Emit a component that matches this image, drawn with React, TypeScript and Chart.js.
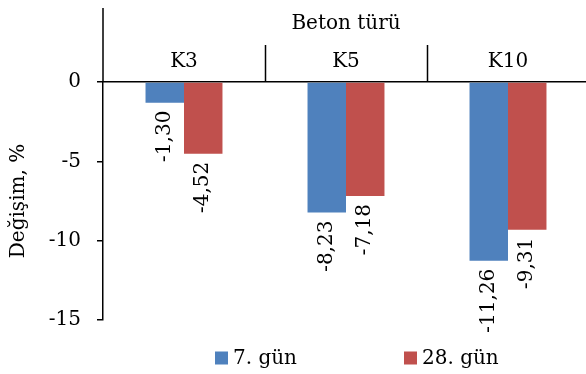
import { useEffect, useRef } from "react";
import { Chart, registerables } from "chart.js";

Chart.register(...registerables);

// Concrete types and percentage change per curing age
const categories = ["K3", "K5", "K10"];
const seriesNames = ["7. gün", "28. gün"];
const day7Values = [-1.3, -8.23, -11.26];
const day28Values = [-4.52, -7.18, -9.31];
const yTickValues = [0, -5, -10, -15];

const FONT_FAMILY = "'DejaVu Serif', 'Liberation Serif', serif";
const FONT_SIZE = 20;
const BLUE = "#4F81BD";
const RED = "#C0504D";
const BLACK = "#000000";

const formatValue = (v: number) => v.toFixed(2).replace(".", ",");

// Rotated value labels under each bar end
const valueLabels = {
  id: "valueLabels",
  afterDatasetsDraw(chart: any) {
    const ctx = chart.ctx as CanvasRenderingContext2D;
    ctx.save();
    ctx.font = `${FONT_SIZE}px ${FONT_FAMILY}`;
    ctx.fillStyle = BLACK;
    ctx.textAlign = "right";
    ctx.textBaseline = "middle";
    chart.data.datasets.forEach((ds: any, di: number) => {
      const meta = chart.getDatasetMeta(di);
      meta.data.forEach((bar: any, i: number) => {
        const text = formatValue(ds.data[i] as number);
        ctx.save();
        ctx.translate(bar.x, bar.y + 8);
        ctx.rotate(-Math.PI / 2);
        ctx.fillText(text, 0, 0);
        ctx.restore();
      });
    });
    ctx.restore();
  },
};

// Divider lines of the category label rows above the plot
const categoryDividers = {
  id: "categoryDividers",
  afterDraw(chart: any) {
    const { ctx, chartArea, scales } = chart;
    const x = scales.x;
    const step = x.getPixelForValue(1) - x.getPixelForValue(0);
    ctx.save();
    ctx.strokeStyle = BLACK;
    ctx.lineWidth = 1.5;
    ctx.beginPath();
    ctx.moveTo(chartArea.left, chartArea.top);
    ctx.lineTo(chartArea.left, 8);
    for (let i = 0; i < categories.length; i++) {
      const px = Math.round(x.getPixelForValue(i) + step / 2) + 0.5;
      ctx.moveTo(px, chartArea.top);
      ctx.lineTo(px, chartArea.top - 37);
    }
    ctx.stroke();
    ctx.restore();
  },
};

// Legend row under the plot
const bottomLegend = {
  id: "bottomLegend",
  afterDraw(chart: any) {
    const ctx = chart.ctx as CanvasRenderingContext2D;
    const starts = [215, 404];
    const cy = 358;
    ctx.save();
    ctx.font = `${FONT_SIZE}px ${FONT_FAMILY}`;
    ctx.textAlign = "left";
    ctx.textBaseline = "middle";
    chart.data.datasets.forEach((ds: any, di: number) => {
      const x0 = starts[di];
      ctx.fillStyle = ds.backgroundColor;
      ctx.fillRect(x0, cy - 6.5, 13, 13);
      ctx.fillStyle = BLACK;
      ctx.fillText(ds.label, x0 + 18, cy + 1);
    });
    ctx.restore();
  },
};

export default function App() {
  const canvasRef = useRef<HTMLCanvasElement>(null);

  useEffect(() => {
    if (!canvasRef.current) return;
    const font = { family: FONT_FAMILY, size: FONT_SIZE };
    const chart = new Chart(canvasRef.current, {
      type: "bar",
      data: {
        labels: categories,
        datasets: [
          { label: seriesNames[0], data: day7Values, backgroundColor: BLUE },
          { label: seriesNames[1], data: day28Values, backgroundColor: RED },
        ],
      },
      options: {
        responsive: false,
        animation: false,
        devicePixelRatio: 1,
        layout: { padding: { top: 0, left: 0, right: 1, bottom: 54 } },
        datasets: {
          bar: { categoryPercentage: 0.475, barPercentage: 1 },
        },
        plugins: {
          legend: { display: false },
          tooltip: { enabled: false },
        },
        scales: {
          x: {
            type: "category",
            position: "top",
            offset: true,
            grid: { display: false, drawTicks: false },
            border: { display: true, color: BLACK, width: 1.5 },
            ticks: { font, color: BLACK, padding: 8 },
            title: {
              display: true,
              text: "Beton türü",
              font,
              color: BLACK,
              padding: { top: 12, bottom: 0 },
            },
            afterFit: (scale: any) => {
              scale.height = 82;
            },
          },
          y: {
            min: -15,
            max: 0,
            afterBuildTicks: (scale: any) => {
              scale.ticks = yTickValues.map((v) => ({ value: v }));
            },
            grid: {
              drawOnChartArea: false,
              color: BLACK,
              lineWidth: 1.5,
              tickLength: 6,
            },
            border: { display: true, color: BLACK, width: 1.5 },
            ticks: {
              font,
              color: BLACK,
              padding: 16,
              callback: (v: any) => String(v),
            },
            title: {
              display: true,
              text: "Değişim, %",
              font,
              color: BLACK,
              padding: { top: 7, bottom: 0 },
            },
            afterFit: (scale: any) => {
              scale.width = 103;
            },
          },
        },
      },
      plugins: [valueLabels, categoryDividers, bottomLegend],
    });
    return () => chart.destroy();
  }, []);

  return (
    <div
      style={{
        position: "fixed",
        left: 0,
        top: 0,
        width: 586,
        height: 374,
        overflow: "hidden",
        background: "#ffffff",
      }}
    >
      <canvas
        ref={canvasRef}
        width={590}
        height={374}
        style={{ display: "block", width: 590, height: 374 }}
      />
    </div>
  );
}
